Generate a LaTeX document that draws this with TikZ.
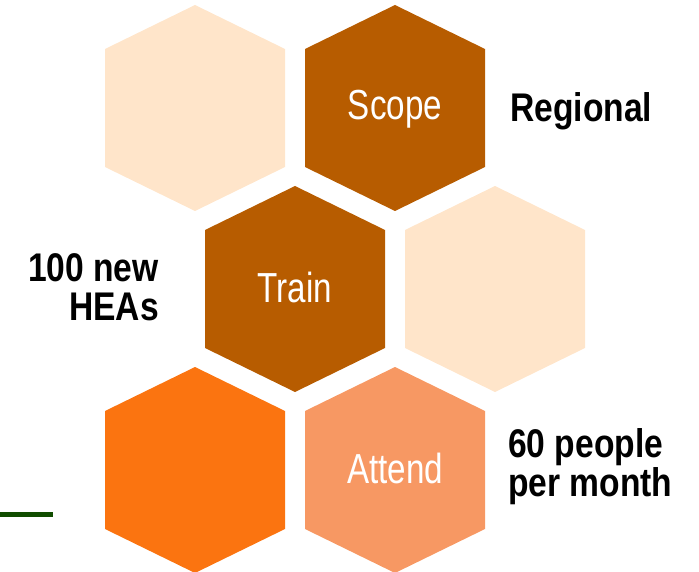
\documentclass[tikz,border=0pt]{standalone}
\usepackage{fontspec}
\usetikzlibrary{calc}
\newfontfamily\hexfont[FakeStretch=0.79]{Liberation Sans}
\newfontfamily\labfont[FakeStretch=0.84]{Liberation Sans}
\definecolor{peach}{HTML}{FFE5CA}
\definecolor{brownhex}{HTML}{B75C00}
\definecolor{orangehex}{HTML}{FB7410}
\definecolor{salmonhex}{HTML}{F79863}
\definecolor{linegreen}{HTML}{114D00}
\newcommand\drawhex[2]{\fill[#2] (#1) ++(0,-103) -- ++(90,44) -- ++(0,118) -- ++(-90,44) -- ++(-90,-44) -- ++(0,-118) -- cycle;}
\begin{document}
\begin{tikzpicture}[x=1pt,y=-1pt,
  hexlabel/.style={inner sep=0pt,anchor=base,text=white,font=\hexfont\fontsize{42}{42}\selectfont},
  sidelabel/.style={inner sep=0pt,text=black,font=\labfont\bfseries\fontsize{40}{39}\selectfont}]
\useasboundingbox (0,0) rectangle (699,572);
\coordinate (h1) at (195,108);
\coordinate (h2) at (395,108);
\coordinate (h3) at (295,289);
\coordinate (h4) at (495,289);
\coordinate (h5) at (195,470);
\coordinate (h6) at (395,470);
\drawhex{h1}{peach}
\drawhex{h2}{brownhex}
\drawhex{h3}{brownhex}
\drawhex{h4}{peach}
\drawhex{h5}{orangehex}
\drawhex{h6}{salmonhex}
\node[hexlabel] (scope) at ($(h2)+(0,12)$) {Scope};
\node[hexlabel] (train) at ($(h3)+(0,13)$) {Train};
\node[hexlabel] (attend) at ($(h6)+(0,13)$) {Attend};
\node[sidelabel,anchor=base west] (regional) at (510,121.7) {Regional};
\node[sidelabel,anchor=base east,align=right] (heas) at (159,320) {100 new\\HEAs};
\node[sidelabel,anchor=base west,align=left] (people) at (508,496.5) {60 people\\per month};
\coordinate (g1) at (0,514);
\coordinate (g2) at (53,514);
\draw[linegreen,line width=5pt] (g1) -- (g2);
\end{tikzpicture}
\end{document}
